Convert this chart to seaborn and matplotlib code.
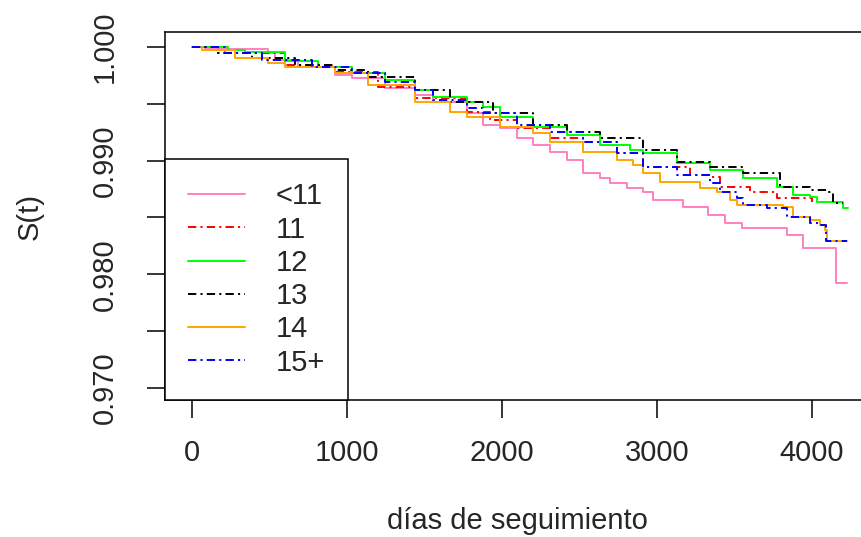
import pandas as pd
import matplotlib
matplotlib.use('Agg')
import matplotlib.pyplot as plt
import seaborn as sns

# curvas de supervivencia por grupo de edad
grupos = ['<11', '11', '12', '13', '14', '15+']

t_menor11 = [0, 84, 490, 535, 684, 923, 1032, 1245, 1439, 1555, 1774, 1877, 1987, 2097, 2200, 2310,
             2419, 2523, 2632, 2697, 2806, 2910, 2974, 3168, 3329, 3439, 3548, 3839, 3942, 4155, 4226]
s_menor11 = [1.0, 0.9998, 0.9995, 0.9989, 0.9982, 0.9975, 0.9973, 0.9964, 0.9958, 0.9952, 0.9942,
             0.9931, 0.9929, 0.9920, 0.9914, 0.9908, 0.9901, 0.9889, 0.9885, 0.9880, 0.9876, 0.9872,
             0.9865, 0.9859, 0.9852, 0.9845, 0.9841, 0.9835, 0.9823, 0.9792, 0.9792]

t_11 = [0, 168, 600, 923, 1200, 1439, 1774, 1923, 2097, 2310, 2523, 2742, 2910, 3213, 3342, 3406,
        3600, 3774, 4000]
s_11 = [1.0, 0.9995, 0.9984, 0.9978, 0.9965, 0.9955, 0.9943, 0.9936, 0.9929, 0.9920, 0.9916, 0.9907,
        0.9894, 0.9887, 0.9886, 0.9877, 0.9872, 0.9867, 0.9864]

t_12 = [0, 232, 342, 600, 813, 1032, 1245, 1439, 1555, 1774, 1877, 1987, 2200, 2419, 2632, 2826,
        2910, 3129, 3342, 3555, 3774, 3877, 3987, 4032, 4200, 4232]
s_12 = [1.0, 0.9997, 0.9996, 0.9988, 0.9982, 0.9977, 0.9971, 0.9962, 0.9956, 0.9952, 0.9947, 0.9938,
        0.9930, 0.9923, 0.9914, 0.9909, 0.9907, 0.9898, 0.9892, 0.9885, 0.9877, 0.9870, 0.9868,
        0.9864, 0.9858, 0.9858]

t_13 = [0, 168, 387, 665, 923, 1135, 1439, 1665, 1942, 2200, 2419, 2632, 2910, 3129, 3342, 3555,
        3794, 3987, 4100, 4135, 4200]
s_13 = [1.0, 0.9995, 0.9990, 0.9984, 0.9980, 0.9974, 0.9962, 0.9952, 0.9942, 0.9931, 0.9925, 0.9920,
        0.9909, 0.9899, 0.9894, 0.9889, 0.9877, 0.9874, 0.9872, 0.9863, 0.9863]

t_14 = [0, 65, 277, 490, 600, 923, 1135, 1439, 1665, 1774, 1987, 2200, 2310, 2523, 2742, 2845, 2910,
        3019, 3277, 3387, 3471, 3516, 3813, 3877, 3987, 4052, 4084, 4097, 4226]
s_14 = [1.0, 0.9997, 0.9990, 0.9986, 0.9982, 0.9977, 0.9967, 0.9952, 0.9943, 0.9938, 0.9930, 0.9924,
        0.9916, 0.9908, 0.9901, 0.9896, 0.9889, 0.9881, 0.9876, 0.9872, 0.9865, 0.9861, 0.9859,
        0.9850, 0.9848, 0.9843, 0.9839, 0.9829, 0.9829]

t_15 = [0, 213, 452, 774, 1032, 1245, 1439, 1555, 1774, 1877, 2097, 2310, 2523, 2742, 2910, 3129,
        3342, 3406, 3516, 3555, 3710, 3839, 3987, 4060, 4090, 4226]
s_15 = [1.0, 0.9995, 0.9989, 0.9982, 0.9977, 0.9969, 0.9962, 0.9953, 0.9946, 0.9942, 0.9931, 0.9925,
        0.9916, 0.9907, 0.9894, 0.9887, 0.9880, 0.9872, 0.9867, 0.9861, 0.9858, 0.9850, 0.9845,
        0.9843, 0.9829, 0.9829]

colores = ['#FF80C0', 'red', '#00FF00', 'black', 'orange', 'blue']

tiempos = [t_menor11, t_11, t_12, t_13, t_14, t_15]
superv = [s_menor11, s_11, s_12, s_13, s_14, s_15]

frames = []
for g, t, s in zip(grupos, tiempos, superv):
    frames.append(pd.DataFrame({'t': t, 'S': s, 'grupo': g}))
df = pd.concat(frames, ignore_index=True)

sns.set_style('white')
plt.rcParams['font.family'] = ['Liberation Sans', 'DejaVu Sans']
plt.rcParams['lines.scale_dashes'] = False

punto_raya = (6, 3, 1.5, 3)
dashes = {'<11': '', '11': punto_raya, '12': '', '13': punto_raya, '14': '', '15+': punto_raya}

fs = 21

fig = plt.figure(figsize=(8.61, 5.37), dpi=100)
ax = fig.add_axes([165/861, 137/537, 704/861, 368/537])

sns.lineplot(data=df, x='t', y='S', hue='grupo', style='grupo', hue_order=grupos, style_order=grupos,
             palette=colores, dashes=dashes, estimator=None, drawstyle='steps-post',
             linewidth=1.4, legend=False, ax=ax)

ax.set_xlim(-174, 4368)
ax.set_ylim(0.96894, 1.00132)

ax.set_xticks([0, 1000, 2000, 3000, 4000])
yt = [0.970, 0.975, 0.980, 0.985, 0.990, 0.995, 1.000]
ax.set_yticks(yt)
ax.set_yticklabels(['0.970', '', '0.980', '', '0.990', '', '1.000'], rotation=90, va='center')

for sp in ax.spines.values():
    sp.set_color('black')
    sp.set_linewidth(1.1)

ax.tick_params(axis='both', direction='out', length=13, width=1.1, color='black',
               labelsize=fs, left=True, bottom=True)
ax.tick_params(axis='x', pad=15)
ax.tick_params(axis='y', pad=20)

ax.set_xlabel('días de seguimiento', fontsize=fs, labelpad=29)
ax.set_ylabel('S(t)', fontsize=fs, labelpad=34)

handles = ax.get_lines()[:6]
leg = ax.legend(handles, grupos, loc='lower left', bbox_to_anchor=(0, 0), borderaxespad=0,
                fontsize=fs, frameon=True, fancybox=False, handlelength=1.95, handletextpad=1.05,
                labelspacing=0.18, borderpad=0.8, edgecolor='black')
leg.get_frame().set_linewidth(1.1)
leg.get_frame().set_alpha(1)

fig.savefig('out.png', dpi=100)
